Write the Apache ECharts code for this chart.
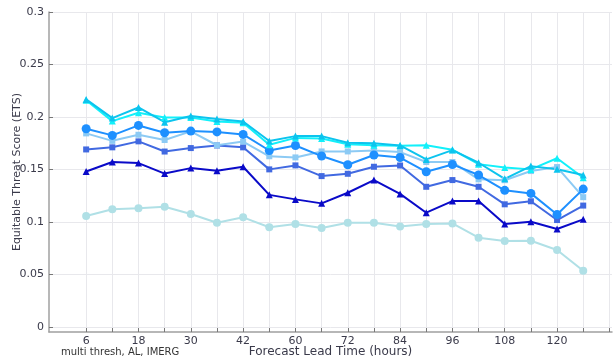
<!DOCTYPE html>
<html>
<head>
<meta charset="utf-8">
<script src="https://cdn.jsdelivr.net/npm/echarts@6/dist/echarts.min.js"></script>
<style>
  html, body { margin: 0; padding: 0; background: #fff; }
  #chart { width: 615px; height: 359px; }
</style>
</head>
<body>
<div id="chart"></div>
<script>
// Forecast lead times (hours), one per plotted position
const leadHours = [6, 12, 18, 24, 30, 36, 42, 48, 60, 66, 72, 78, 84, 90, 96, 102, 108, 114, 120, 126];

// ETS per lead time, one array per threshold line
const etsDeepSky = [0.2167, 0.1989, 0.2090, 0.1950, 0.2008, 0.1980, 0.1957, 0.1770, 0.1817, 0.1817, 0.1753, 0.1748, 0.1728, 0.1595, 0.1684, 0.1563, 0.1410, 0.1531, 0.1502, 0.1447];
const etsAqua     = [0.2160, 0.1960, 0.2040, 0.1995, 0.1995, 0.1957, 0.1944, 0.1734, 0.1800, 0.1795, 0.1740, 0.1730, 0.1725, 0.1730, 0.1688, 0.1550, 0.1517, 0.1500, 0.1606, 0.1420];
const etsDodger   = [0.1887, 0.1824, 0.1919, 0.1849, 0.1865, 0.1857, 0.1833, 0.1680, 0.1728, 0.1627, 0.1544, 0.1637, 0.1613, 0.1477, 0.1547, 0.1446, 0.1300, 0.1271, 0.1070, 0.1312];
const etsLightSky = [0.1843, 0.1772, 0.1830, 0.1780, 0.1862, 0.1730, 0.1765, 0.1625, 0.1614, 0.1671, 0.1671, 0.1680, 0.1665, 0.1570, 0.1570, 0.1405, 0.1397, 0.1484, 0.1522, 0.1235];
const etsRoyal    = [0.1690, 0.1710, 0.1767, 0.1670, 0.1703, 0.1728, 0.1710, 0.1500, 0.1538, 0.1436, 0.1458, 0.1525, 0.1537, 0.1334, 0.1398, 0.1334, 0.1167, 0.1196, 0.1017, 0.1155];
const etsMedium   = [0.1480, 0.1570, 0.1560, 0.1460, 0.1512, 0.1487, 0.1525, 0.1257, 0.1214, 0.1176, 0.1277, 0.1398, 0.1266, 0.1087, 0.1198, 0.1198, 0.0979, 0.1000, 0.0932, 0.1024];
const etsPowder   = [0.1055, 0.1120, 0.1130, 0.1144, 0.1074, 0.0992, 0.1043, 0.0948, 0.0979, 0.0941, 0.0992, 0.0992, 0.0956, 0.0979, 0.0985, 0.0849, 0.0817, 0.0820, 0.0731, 0.0534];

// Axis tick labels
const yTickValues = [0, 0.05, 0.1, 0.15, 0.2, 0.25, 0.3];
const xLabelHours = [6, 18, 30, 42, 60, 72, 84, 96, 108, 120];

const FONT = 'DejaVu Sans';

const tickPositions = [];
for (let i = 0; i <= 20; i++) tickPositions.push(i);
const labelPositions = xLabelHours.map(h => leadHours.indexOf(h));

function toPoints(vals) {
  return vals.map((v, i) => [i, v]);
}

function line(name, vals, color, symbol, size) {
  return {
    name: name,
    type: 'line',
    data: toPoints(vals),
    symbol: symbol,
    symbolSize: size,
    lineStyle: { color: color, width: 2 },
    itemStyle: { color: color },
    emphasis: { disabled: true },
    animation: false,
    z: 3
  };
}

const chart = echarts.init(document.getElementById('chart'), null, { renderer: 'canvas' });

chart.setOption({
  backgroundColor: '#ffffff',
  animation: false,
  title: {
    text: 'multi thresh, AL, IMERG',
    left: 56,
    top: 342,
    textStyle: { fontFamily: FONT, fontSize: 10, fontWeight: 'normal', color: '#333' }
  },
  grid: { left: 49, right: 3, top: 12, bottom: 27, containLabel: false, outerBoundsMode: 'none' },
  xAxis: {
    type: 'value',
    min: -1.42,
    max: 20.1,
    name: 'Forecast Lead Time (hours)',
    nameLocation: 'middle',
    nameGap: 14,
    nameMoveOverlap: false,
    nameTextStyle: { fontFamily: FONT, fontSize: 12, color: '#3a3a4a' },
    axisLine: { onZero: false, lineStyle: { color: '#a0a0a0', width: 1.5 } },
    axisTick: { show: true, inside: true, length: 4, customValues: tickPositions, lineStyle: { color: '#777' } },
    axisLabel: {
      customValues: labelPositions,
      margin: 4,
      fontFamily: FONT, fontSize: 11, color: '#3a3a4a',
      formatter: v => String(leadHours[Math.round(v)])
    },
    splitLine: { show: true, lineStyle: { color: '#e8e8ec', width: 1 } }
  },
  yAxis: {
    type: 'value',
    min: -0.005,
    max: 0.3,
    name: 'Equitable Threat Score (ETS)',
    nameLocation: 'middle',
    nameGap: 26,
    nameRotate: 90,
    nameMoveOverlap: false,
    nameTextStyle: { fontFamily: FONT, fontSize: 11, color: '#3a3a4a' },
    axisLine: { show: true, onZero: false, lineStyle: { color: '#a0a0a0', width: 1.5 } },
    axisTick: { show: true, inside: true, length: 4, customValues: yTickValues, lineStyle: { color: '#777' } },
    axisLabel: {
      customValues: yTickValues,
      margin: 5,
      fontFamily: FONT, fontSize: 11, color: '#3a3a4a',
      formatter: v => String(parseFloat(v.toFixed(2)))
    },
    splitLine: { show: true, lineStyle: { color: '#e8e8ec', width: 1 } }
  },
  series: [
    line('powderblue', etsPowder, '#b0e0e6', 'circle', 8),
    line('mediumblue', etsMedium, '#0a0ac8', 'triangle', 7),
    line('royalblue', etsRoyal, '#4169e1', 'rect', 6),
    line('lightskyblue', etsLightSky, '#8ccaf4', 'rect', 6),
    line('dodgerblue', etsDodger, '#1e90ff', 'circle', 9),
    line('aqua', etsAqua, '#12f0fa', 'triangle', 7),
    line('deepskyblue', etsDeepSky, '#0cc4ee', 'triangle', 7)
  ]
});
</script>
</body>
</html>
